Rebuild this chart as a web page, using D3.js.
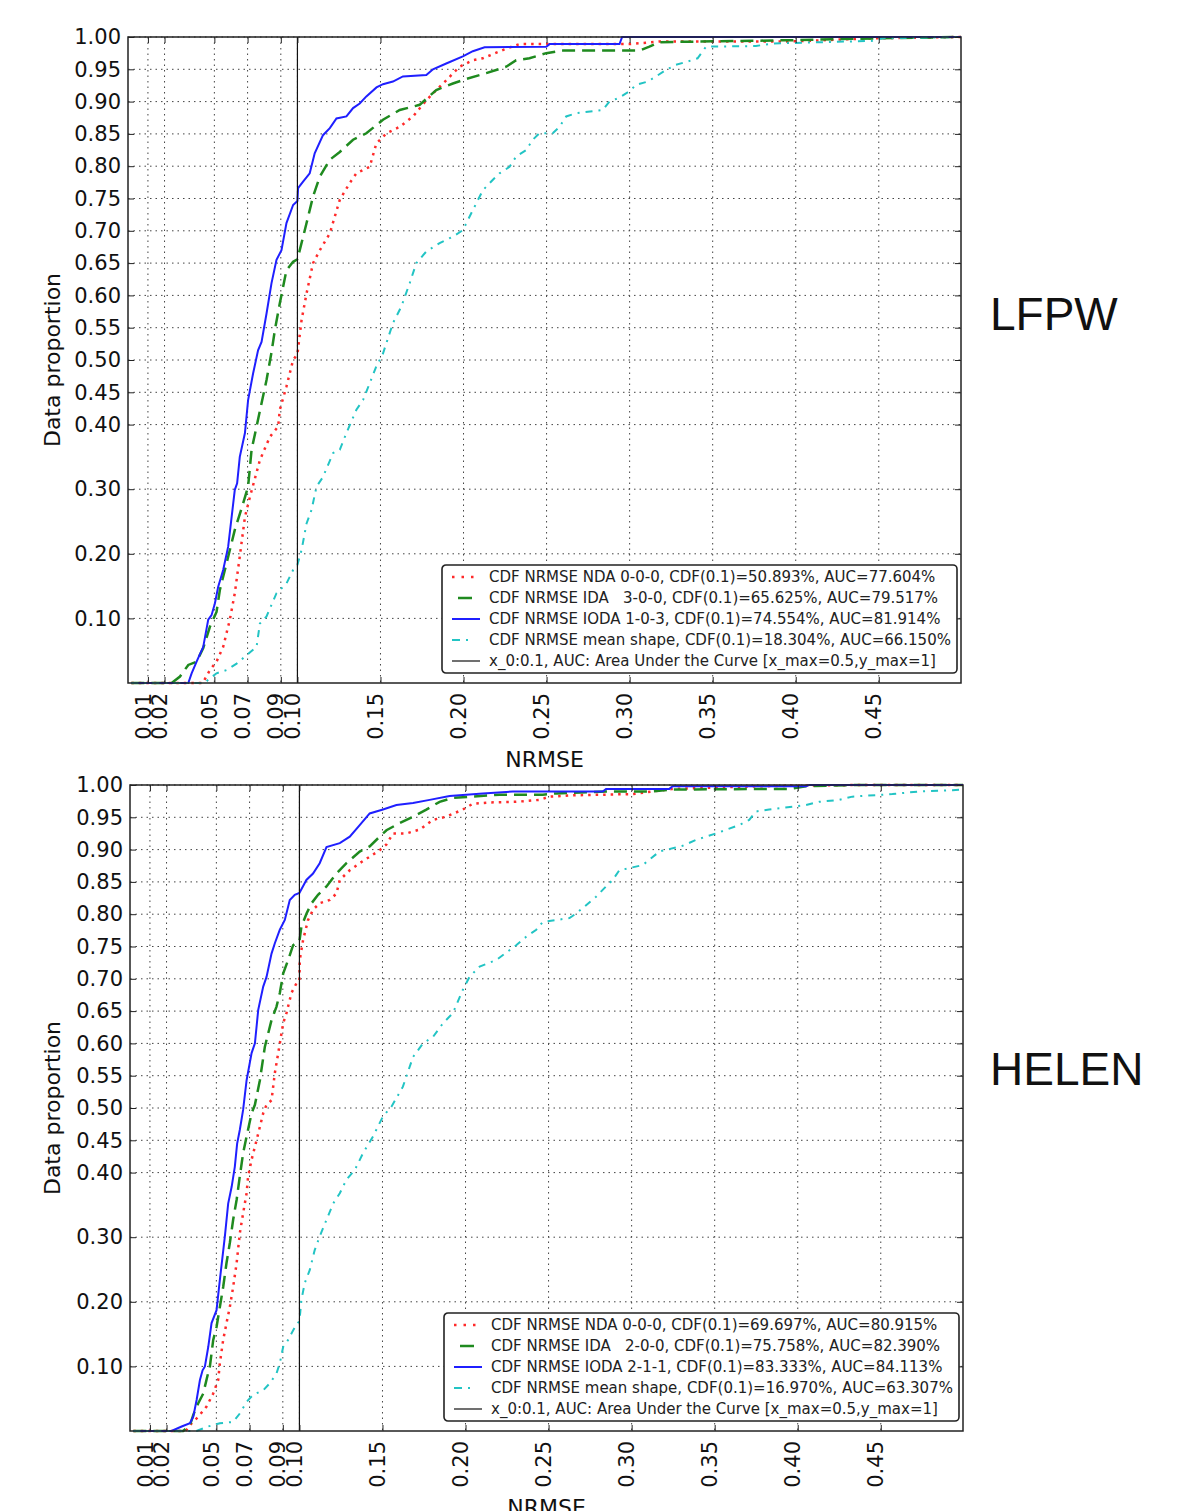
<!DOCTYPE html>
<html>
<head>
<meta charset="utf-8">
<script src="https://cdn.jsdelivr.net/npm/d3@7"></script>
<style>
  body { margin: 0; background: #fff; }
  svg { display: block; }
  text { font-family: "DejaVu Sans", sans-serif; }
</style>
</head>
<body>
<svg id="chart"></svg>
<script>
// ---- data: [NRMSE, proportion] ----
const xTicks = [0.01, 0.02, 0.05, 0.07, 0.09, 0.10, 0.15, 0.20, 0.25, 0.30, 0.35, 0.40, 0.45];
const yTicks = [0.10, 0.20, 0.30, 0.40, 0.45, 0.50, 0.55, 0.60, 0.65, 0.70, 0.75, 0.80, 0.85, 0.90, 0.95, 1.00];
const xDomain = [-0.002, 0.4995];
const x0 = 0.1;

const lfpwNda = [[0,0],[0.043,0],[0.0473,0.020],[0.0513,0.033],[0.0553,0.056],[0.0593,0.098],[0.0623,0.139],[0.0653,0.196],[0.0684,0.257],[0.0714,0.288],[0.0774,0.345],[0.0834,0.381],[0.0884,0.397],[0.0894,0.423],[0.0934,0.459],[0.0974,0.500],[0.1,0.509],[0.1025,0.562],[0.1055,0.603],[0.1094,0.650],[0.1135,0.670],[0.1195,0.696],[0.1255,0.748],[0.1315,0.774],[0.1355,0.789],[0.1435,0.799],[0.1475,0.835],[0.1536,0.851],[0.1616,0.861],[0.1696,0.877],[0.1776,0.902],[0.1836,0.918],[0.1896,0.933],[0.1976,0.954],[0.2056,0.964],[0.2116,0.967],[0.2257,0.982],[0.2337,0.989],[0.2999,0.989],[0.3179,0.993],[0.3961,0.993],[0.446,0.998],[0.4995,1]];
const lfpwIda = [[0,0],[0.0243,0],[0.0293,0.010],[0.0343,0.028],[0.0393,0.033],[0.0433,0.054],[0.0473,0.087],[0.0513,0.110],[0.0533,0.144],[0.0573,0.185],[0.0623,0.237],[0.0673,0.278],[0.0703,0.304],[0.0724,0.361],[0.0754,0.397],[0.0784,0.433],[0.0814,0.469],[0.0844,0.512],[0.0864,0.546],[0.0894,0.588],[0.0934,0.639],[0.0974,0.652],[0.1,0.656],[0.1014,0.670],[0.1055,0.712],[0.1094,0.753],[0.1135,0.784],[0.1195,0.810],[0.1255,0.822],[0.1335,0.841],[0.1415,0.851],[0.1515,0.872],[0.1616,0.887],[0.1736,0.895],[0.1836,0.918],[0.1936,0.928],[0.2017,0.935],[0.2137,0.944],[0.2257,0.954],[0.2317,0.964],[0.2397,0.967],[0.2498,0.975],[0.2598,0.979],[0.3059,0.979],[0.3119,0.985],[0.3179,0.992],[0.3961,0.995],[0.45,0.998],[0.4995,1]];
const lfpwIoda = [[0,0],[0.0343,0],[0.0363,0.015],[0.0393,0.033],[0.0433,0.056],[0.0463,0.098],[0.0483,0.105],[0.0503,0.123],[0.0523,0.149],[0.0553,0.175],[0.0583,0.211],[0.0623,0.299],[0.0637,0.309],[0.0653,0.350],[0.0684,0.387],[0.0703,0.438],[0.0733,0.479],[0.0763,0.515],[0.0784,0.528],[0.0814,0.572],[0.0844,0.619],[0.0874,0.655],[0.0904,0.670],[0.0934,0.712],[0.0974,0.740],[0.1,0.746],[0.1004,0.766],[0.1034,0.776],[0.1074,0.789],[0.1104,0.820],[0.1154,0.848],[0.1195,0.859],[0.1235,0.874],[0.1295,0.877],[0.1335,0.890],[0.1375,0.897],[0.1415,0.908],[0.1476,0.922],[0.1515,0.927],[0.1575,0.931],[0.1635,0.939],[0.1776,0.941],[0.1816,0.950],[0.1896,0.959],[0.1996,0.970],[0.2056,0.978],[0.2127,0.984],[0.2498,0.985],[0.2518,0.989],[0.2939,0.989],[0.2955,1],[0.4995,1]];
const lfpwMean = [[0,0],[0.044,0],[0.0463,0.005],[0.0513,0.015],[0.0573,0.020],[0.0634,0.030],[0.0694,0.043],[0.0754,0.056],[0.0774,0.092],[0.0814,0.103],[0.0874,0.139],[0.0934,0.154],[0.0974,0.175],[0.1,0.183],[0.1025,0.206],[0.1055,0.247],[0.1085,0.268],[0.1115,0.304],[0.1154,0.319],[0.1215,0.356],[0.1255,0.361],[0.1295,0.387],[0.1355,0.423],[0.1395,0.438],[0.1435,0.464],[0.1475,0.490],[0.1515,0.510],[0.1575,0.557],[0.1626,0.583],[0.1676,0.619],[0.1716,0.650],[0.1776,0.668],[0.1856,0.681],[0.1936,0.691],[0.1996,0.701],[0.2056,0.732],[0.2117,0.763],[0.2177,0.779],[0.2217,0.789],[0.2277,0.799],[0.2317,0.815],[0.2377,0.825],[0.2417,0.841],[0.2457,0.851],[0.2537,0.851],[0.2578,0.861],[0.2618,0.877],[0.2678,0.882],[0.2838,0.887],[0.2878,0.900],[0.2938,0.906],[0.2999,0.916],[0.3039,0.926],[0.3109,0.931],[0.3159,0.939],[0.3219,0.949],[0.3279,0.957],[0.3349,0.962],[0.3409,0.967],[0.3460,0.985],[0.3760,0.986],[0.3860,0.990],[0.446,0.994],[0.452,0.998],[0.4995,1]];

const helenNda = [[0,0],[0.031,0],[0.0321,0.002],[0.0351,0.012],[0.0391,0.022],[0.0441,0.038],[0.0481,0.058],[0.0511,0.079],[0.0521,0.105],[0.0541,0.141],[0.0561,0.167],[0.0581,0.192],[0.0601,0.223],[0.0622,0.260],[0.0641,0.306],[0.0661,0.337],[0.0682,0.368],[0.0691,0.394],[0.0712,0.420],[0.0742,0.450],[0.0762,0.471],[0.0782,0.492],[0.0802,0.505],[0.0832,0.512],[0.0852,0.554],[0.0882,0.600],[0.0902,0.631],[0.0922,0.647],[0.0952,0.678],[0.0982,0.693],[0.1,0.697],[0.1002,0.729],[0.1022,0.760],[0.1052,0.791],[0.1082,0.807],[0.1122,0.817],[0.1183,0.822],[0.1223,0.832],[0.1243,0.853],[0.1303,0.868],[0.1363,0.879],[0.1423,0.889],[0.1483,0.899],[0.1524,0.908],[0.1563,0.925],[0.1644,0.925],[0.1724,0.931],[0.1804,0.946],[0.1884,0.951],[0.1984,0.962],[0.2044,0.971],[0.2145,0.973],[0.2305,0.974],[0.2445,0.977],[0.2506,0.982],[0.2646,0.984],[0.3007,0.986],[0.3127,0.990],[0.3247,0.994],[0.3749,0.998],[0.4350,1],[0.4995,1]];
const helenIda = [[0,0],[0.030,0],[0.0341,0.009],[0.0361,0.025],[0.0391,0.043],[0.0421,0.058],[0.0445,0.084],[0.0461,0.100],[0.0481,0.141],[0.0501,0.161],[0.0521,0.192],[0.0541,0.223],[0.0561,0.260],[0.0581,0.291],[0.0601,0.327],[0.0622,0.358],[0.0641,0.394],[0.0661,0.430],[0.0682,0.456],[0.0712,0.492],[0.0732,0.505],[0.0762,0.543],[0.0792,0.595],[0.0832,0.636],[0.0862,0.657],[0.0882,0.678],[0.0902,0.708],[0.0932,0.729],[0.0962,0.752],[0.1,0.758],[0.1012,0.781],[0.1043,0.801],[0.1073,0.817],[0.1112,0.830],[0.1163,0.843],[0.1223,0.863],[0.1283,0.879],[0.1363,0.897],[0.1423,0.905],[0.1483,0.920],[0.1524,0.930],[0.1604,0.941],[0.1684,0.951],[0.1764,0.962],[0.1844,0.974],[0.1924,0.980],[0.2205,0.985],[0.2465,0.985],[0.2546,0.987],[0.2846,0.990],[0.3127,0.990],[0.3247,0.993],[0.3949,0.994],[0.4049,0.998],[0.4350,1],[0.4995,1]];
const helenIoda = [[0,0],[0.023,0],[0.0291,0.007],[0.0341,0.012],[0.0361,0.022],[0.0381,0.048],[0.0401,0.079],[0.0417,0.094],[0.0431,0.100],[0.0451,0.130],[0.0471,0.167],[0.0501,0.187],[0.0521,0.234],[0.0551,0.301],[0.0571,0.352],[0.0592,0.378],[0.0611,0.409],[0.0625,0.445],[0.0641,0.466],[0.0661,0.497],[0.0682,0.543],[0.0712,0.585],[0.0732,0.600],[0.0752,0.652],[0.0782,0.688],[0.0802,0.703],[0.0832,0.739],[0.0852,0.755],[0.0882,0.776],[0.0912,0.791],[0.0942,0.822],[0.0972,0.830],[0.1,0.833],[0.1042,0.853],[0.1082,0.863],[0.1122,0.879],[0.1163,0.904],[0.1243,0.910],[0.1303,0.920],[0.1363,0.938],[0.1423,0.956],[0.1503,0.962],[0.1584,0.969],[0.1684,0.972],[0.1784,0.977],[0.1904,0.983],[0.2104,0.987],[0.2285,0.990],[0.2826,0.990],[0.2846,0.994],[0.3227,0.994],[0.3247,0.998],[0.4049,0.998],[0.4069,1],[0.4995,1]];
const helenMean = [[0,0],[0.038,0],[0.0451,0.007],[0.0521,0.012],[0.0601,0.014],[0.0641,0.027],[0.0682,0.045],[0.0721,0.056],[0.0782,0.063],[0.0822,0.074],[0.0862,0.089],[0.0882,0.105],[0.0902,0.130],[0.0932,0.141],[0.0952,0.151],[0.0982,0.165],[0.1,0.170],[0.1012,0.203],[0.1032,0.229],[0.1062,0.249],[0.1092,0.280],[0.1122,0.301],[0.1163,0.327],[0.1203,0.352],[0.1243,0.368],[0.1283,0.389],[0.1333,0.404],[0.1383,0.430],[0.1443,0.456],[0.1503,0.487],[0.1554,0.502],[0.1623,0.533],[0.1684,0.579],[0.1744,0.600],[0.1804,0.610],[0.1864,0.631],[0.1924,0.647],[0.1984,0.683],[0.2024,0.703],[0.2085,0.719],[0.2185,0.729],[0.2305,0.752],[0.2365,0.765],[0.2426,0.776],[0.2465,0.788],[0.2626,0.794],[0.2666,0.801],[0.2726,0.814],[0.2786,0.827],[0.2846,0.843],[0.2886,0.853],[0.2926,0.868],[0.3067,0.876],[0.3167,0.897],[0.3307,0.906],[0.3388,0.915],[0.3508,0.925],[0.3648,0.938],[0.3708,0.946],[0.3748,0.959],[0.3828,0.962],[0.4049,0.969],[0.4129,0.974],[0.4249,0.977],[0.4329,0.982],[0.4570,0.986],[0.4730,0.990],[0.4931,0.992],[0.4995,0.993]];

const lfpwLabels = [
  "CDF NRMSE NDA 0-0-0, CDF(0.1)=50.893%, AUC=77.604%",
  "CDF NRMSE IDA   3-0-0, CDF(0.1)=65.625%, AUC=79.517%",
  "CDF NRMSE IODA 1-0-3, CDF(0.1)=74.554%, AUC=81.914%",
  "CDF NRMSE mean shape, CDF(0.1)=18.304%, AUC=66.150%",
  "x_0:0.1, AUC: Area Under the Curve [x_max=0.5,y_max=1]"
];
const helenLabels = [
  "CDF NRMSE NDA 0-0-0, CDF(0.1)=69.697%, AUC=80.915%",
  "CDF NRMSE IDA   2-0-0, CDF(0.1)=75.758%, AUC=82.390%",
  "CDF NRMSE IODA 2-1-1, CDF(0.1)=83.333%, AUC=84.113%",
  "CDF NRMSE mean shape, CDF(0.1)=16.970%, AUC=63.307%",
  "x_0:0.1, AUC: Area Under the Curve [x_max=0.5,y_max=1]"
];

// line styles, same order as the series
const styles = [
  { color: "#ff2a2a", width: 2.5, dash: "2.5,5", legendDash: "2.5,7" },
  { color: "#1f8a1f", width: 2.5, dash: "13,7", legendDash: "0,6,14,20" },
  { color: "#1f1fff", width: 2, dash: null, legendDash: null },
  { color: "#22c4c4", width: 2, dash: "7,6,2,6", legendDash: "8,6,2,20" }
];

const width = 1178, height = 1511;
const svg = d3.select("#chart").attr("width", width).attr("height", height);
svg.append("rect").attr("width", width).attr("height", height).attr("fill", "#fff");

const panels = [
  { title: "LFPW", titleY: 330, left: 128, right: 961, top: 37, bottom: 683,
    series: [lfpwNda, lfpwIda, lfpwIoda, lfpwMean], labels: lfpwLabels },
  { title: "HELEN", titleY: 1085, left: 130, right: 963, top: 785, bottom: 1431,
    series: [helenNda, helenIda, helenIoda, helenMean], labels: helenLabels }
];

panels.forEach(p => {
  const x = d3.scaleLinear().domain(xDomain).range([p.left, p.right]);
  const y = d3.scaleLinear().domain([0, 1]).range([p.bottom, p.top]);
  const g = svg.append("g");

  // dotted grid
  g.append("g").selectAll("line").data(xTicks).join("line")
    .attr("x1", d => x(d)).attr("x2", d => x(d))
    .attr("y1", p.top).attr("y2", p.bottom)
    .attr("stroke", "#444").attr("stroke-width", 1).attr("stroke-dasharray", "1.5,4");
  g.append("g").selectAll("line").data(yTicks).join("line")
    .attr("x1", p.left).attr("x2", p.right)
    .attr("y1", d => y(d)).attr("y2", d => y(d))
    .attr("stroke", "#444").attr("stroke-width", 1).attr("stroke-dasharray", "1.5,4");

  // curves
  const line = d3.line().x(d => x(d[0])).y(d => y(d[1]));
  p.series.forEach((s, i) => {
    g.append("path").datum(s)
      .attr("d", line)
      .attr("fill", "none")
      .attr("stroke", styles[i].color)
      .attr("stroke-width", styles[i].width)
      .attr("stroke-dasharray", styles[i].dash);
  });

  // x_0 marker
  g.append("line")
    .attr("x1", x(x0)).attr("x2", x(x0))
    .attr("y1", p.top).attr("y2", p.bottom)
    .attr("stroke", "#111").attr("stroke-width", 1.2);

  // axes, ticks pointing inward
  const fmt = d3.format(".2f");
  const xb = g.append("g").attr("transform", `translate(0,${p.bottom})`)
    .call(d3.axisBottom(x).tickValues(xTicks).tickFormat(fmt).tickSizeInner(-6).tickSizeOuter(0));
  xb.selectAll("text")
    .attr("x", -10).attr("y", 0).attr("dy", "0.1em")
    .attr("transform", "rotate(-90)")
    .attr("text-anchor", "end")
    .style("font-size", "21px").attr("fill", "#111");
  g.append("g").attr("transform", `translate(0,${p.top})`)
    .call(d3.axisTop(x).tickValues(xTicks).tickFormat("").tickSizeInner(-6).tickSizeOuter(0));
  const yl = g.append("g").attr("transform", `translate(${p.left},0)`)
    .call(d3.axisLeft(y).tickValues(yTicks).tickFormat(fmt).tickSizeInner(-6).tickSizeOuter(0).tickPadding(7));
  yl.selectAll("text").style("font-size", "21px").attr("fill", "#111");
  g.append("g").attr("transform", `translate(${p.right},0)`)
    .call(d3.axisRight(y).tickValues(yTicks).tickFormat("").tickSizeInner(-6).tickSizeOuter(0));
  g.selectAll(".domain").remove();
  g.selectAll(".tick line").attr("stroke", "#222");

  // frame
  g.append("rect")
    .attr("x", p.left).attr("y", p.top)
    .attr("width", p.right - p.left).attr("height", p.bottom - p.top)
    .attr("fill", "none").attr("stroke", "#222").attr("stroke-width", 1.5);

  // axis labels and panel title
  g.append("text")
    .attr("x", (p.left + p.right) / 2).attr("y", p.bottom + 84)
    .attr("text-anchor", "middle").style("font-size", "22px").attr("fill", "#111")
    .text("NRMSE");
  g.append("text")
    .attr("transform", `translate(60,${(p.top + p.bottom) / 2}) rotate(-90)`)
    .attr("text-anchor", "middle").style("font-size", "22px").attr("fill", "#111")
    .text("Data proportion");
  g.append("text")
    .attr("x", 990).attr("y", p.titleY)
    .style("font-family", "'Liberation Sans', Arial, sans-serif")
    .style("font-size", "46px").attr("fill", "#111")
    .text(p.title);

  // legend
  const lx = p.right - 519, ly = p.bottom - 118;
  const lg = g.append("g").attr("transform", `translate(${lx},${ly})`);
  lg.append("rect")
    .attr("width", 515).attr("height", 108).attr("rx", 4)
    .attr("fill", "#fff").attr("stroke", "#222").attr("stroke-width", 1.6);
  p.labels.forEach((lab, i) => {
    const cy = 12 + i * 21;
    const st = styles[i];
    lg.append("line")
      .attr("x1", 10).attr("x2", 38).attr("y1", cy).attr("y2", cy)
      .attr("stroke", st ? st.color : "#111")
      .attr("stroke-width", st ? st.width : 1.2)
      .attr("stroke-dasharray", st ? st.legendDash : null);
    lg.append("text")
      .attr("x", 47).attr("y", cy + 5)
      .style("font-size", "15px").style("white-space", "pre").attr("fill", "#222")
      .text(lab);
  });
});
</script>
</body>
</html>
